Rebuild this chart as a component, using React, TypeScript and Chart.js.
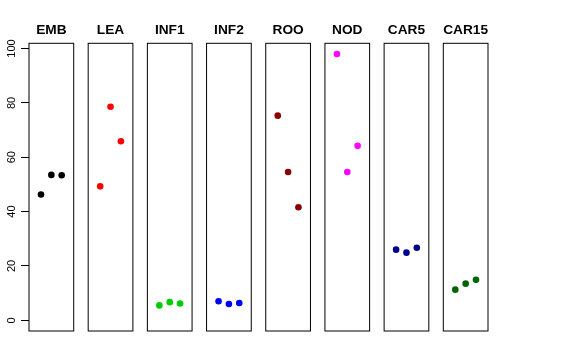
import React, { useEffect, useRef } from "react";
import { Chart, registerables } from "chart.js";
Chart.register(...registerables);

const panels = ["EMB", "LEA", "INF1", "INF2", "ROO", "NOD", "CAR5", "CAR15"];
const colors = ["#000000", "#FF0000", "#00CD00", "#0000FF", "#8B0000", "#FF00FF", "#00008B", "#006400"];

const EMB = [46.3, 53.5, 53.4];
const LEA = [49.3, 78.6, 65.9];
const INF1 = [5.5, 6.7, 6.2];
const INF2 = [7.0, 6.0, 6.4];
const ROO = [75.3, 54.6, 41.6];
const NOD = [98.0, 54.6, 64.2];
const CAR5 = [26.0, 24.9, 26.7];
const CAR15 = [11.3, 13.5, 14.9];

const seriesValues = [EMB, LEA, INF1, INF2, ROO, NOD, CAR5, CAR15];
const yTicks = [0, 20, 40, 60, 80, 100];

// layout of panels along a single x scale (each panel spans 0..4, points at 1,2,3)
const PANEL_LO = 0;
const PANEL_HI = 4;
const EXT = 0.04 * (PANEL_HI - PANEL_LO);
const STEP = 5.72;

const FONT = "'Liberation Sans', Arial, Helvetica, sans-serif";

export default function App() {
  const ref = useRef<HTMLCanvasElement | null>(null);

  useEffect(() => {
    if (!ref.current) return;
    const yMax = Math.max(...seriesValues.flat());
    const yPad = 0.04 * yMax;

    const datasets = seriesValues.map((vals, i) => ({
      label: panels[i],
      data: vals.map((v, j) => ({ x: i * STEP + j + 1, y: v })),
      backgroundColor: colors[i],
      borderColor: colors[i],
      borderWidth: 0,
      pointRadius: 3.3,
      pointHoverRadius: 3.3,
      showLine: false,
    }));

    const panelPlugin = {
      id: "panelBoxes",
      beforeDatasetsDraw(chart: any) {
        const { ctx, chartArea, scales } = chart;
        const x = scales.x;
        ctx.save();
        ctx.strokeStyle = "#000";
        ctx.lineWidth = 1;
        panels.forEach((name, i) => {
          const l = x.getPixelForValue(i * STEP + PANEL_LO - EXT);
          const r = x.getPixelForValue(i * STEP + PANEL_HI + EXT);
          ctx.strokeRect(l, chartArea.top, r - l, chartArea.bottom - chartArea.top);
          ctx.font = `bold 13.7px ${FONT}`;
          ctx.fillStyle = "#000";
          ctx.textAlign = "center";
          ctx.textBaseline = "alphabetic";
          ctx.fillText(name, (l + r) / 2, 34.3);
        });
        ctx.restore();
      },
    };

    const chart = new Chart(ref.current, {
      type: "scatter",
      data: { datasets },
      options: {
        animation: false,
        responsive: false,
        events: [],
        layout: { padding: { left: 0, top: 43.3, right: 88, bottom: 29 } },
        plugins: { legend: { display: false }, tooltip: { enabled: false } },
        scales: {
          x: {
            type: "linear",
            display: false,
            min: PANEL_LO - EXT,
            max: (panels.length - 1) * STEP + PANEL_HI + EXT,
          },
          y: {
            type: "linear",
            min: -yPad,
            max: yMax + yPad,
            afterBuildTicks: (scale: any) => {
              scale.ticks = yTicks.map((v) => ({ value: v }));
            },
            afterFit: (scale: any) => {
              scale.width = 29;
            },
            border: { display: false },
            grid: {
              drawOnChartArea: false,
              drawTicks: true,
              tickLength: 8,
              color: "#000",
              lineWidth: 1,
            },
            ticks: {
              autoSkip: false,
              minRotation: 90,
              maxRotation: 90,
              crossAlign: "center",
              padding: 0,
              color: "#000",
              font: { family: FONT, size: 11 },
            },
          },
        },
      },
      plugins: [panelPlugin],
    });
    return () => chart.destroy();
  }, []);

  return (
    <div style={{ position: "absolute", left: 0, top: 0, width: 576, height: 360, background: "#fff" }}>
      <canvas ref={ref} width={576} height={360} />
    </div>
  );
}
